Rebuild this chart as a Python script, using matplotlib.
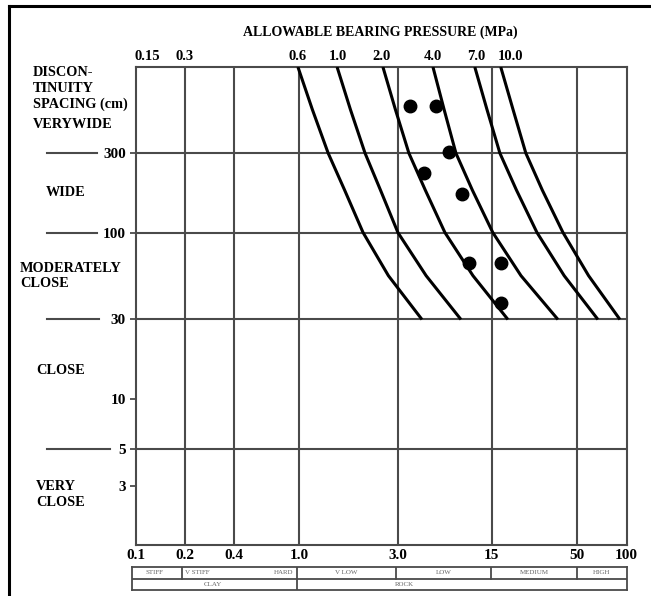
import numpy as np
import matplotlib
matplotlib.use('Agg')
import matplotlib.pyplot as plt
from matplotlib import transforms
from matplotlib.lines import Line2D

plt.rcParams['font.family'] = ['Liberation Serif', 'DejaVu Serif']
plt.rcParams['font.weight'] = 'bold'

# spacing (cm) at which the curves were read
curve_spacing = [990, 550, 300, 180, 100, 55, 30]
# allowable bearing pressure curves (x value at each spacing above)
curve_06 = [0.98, 1.20, 1.50, 1.89, 2.45, 3.50, 5.61]
curve_10 = [1.70, 2.05, 2.52, 3.13, 4.00, 5.95, 9.71]
curve_20 = [3.24, 3.86, 4.67, 5.88, 7.75, 11.5, 18.8]
curve_40 = [6.55, 7.66, 9.05, 11.4, 15.2, 22.6, 38.0]
curve_70 = [11.8, 14.0, 16.8, 21.2, 28.3, 41.5, 66.7]
curve_100 = [17.0, 20.2, 24.2, 30.5, 40.8, 58.5, 90.9]

# measured points
pt_pressure = [4.74, 6.83, 8.20, 5.77, 9.85, 10.86, 17.0, 17.0]
pt_spacing = [573, 573, 307, 229, 171, 65.3, 65.3, 37.9]

# top labels (MPa) and where they sit
top_labels = ['0.15', '0.3', '0.6', '1.0', '2.0', '4.0', '7.0', '10.0']
top_pos = [0.118, 0.2, 0.98, 1.72, 3.19, 6.55, 12.1, 19.6]

# bottom axis
x_ticks = [0.1, 0.2, 0.4, 1.0, 4.0, 15, 50, 100]
x_labels = ['0.1', '0.2', '0.4', '1.0', '3.0', '15', '50', '100']
x_grid = [0.2, 0.4, 1.0, 4.0, 15, 50]

# left axis
y_ticks = [300, 100, 30, 10, 5, 3]
y_grid = [300, 100, 30, 5]
spacing_classes = ['DISCON-\nTINUITY\nSPACING (cm)', 'VERYWIDE', 'WIDE',
                   'MODERATELY\nCLOSE', 'CLOSE', 'VERY\nCLOSE']

# strength table
row1_labels = ['STIFF', 'V STIFF', 'HARD', 'V LOW', 'LOW', 'MEDIUM', 'HIGH']
row1_pos = [0.137, 0.21, 0.95, 1.98, 7.75, 27.5, 70.5]
row1_ha = ['center', 'left', 'right', 'center', 'center', 'center', 'center']
row1_div = [0.2, 1.0, 4.0, 15, 50]
row2_labels = ['CLAY', 'ROCK']
row2_pos = [0.31, 4.5]
row2_div = [1.0]

W, H = 651, 596
fig = plt.figure(figsize=(W / 100, H / 100), dpi=100)
ax = fig.add_axes([135.7 / W, 1 - 545 / H, 491 / W, 478 / H])
ax.set_xscale('log')
ax.set_yscale('log')
ax.set_xlim(0.1, 100)
ax.set_ylim(1.32, 990)
ax.minorticks_off()

gc = '#4a4a4a'
for s in ax.spines.values():
    s.set_color(gc)
    s.set_linewidth(1.5)
for v in x_grid:
    ax.axvline(v, color=gc, lw=1.5, zorder=1)
for v in y_grid:
    ax.axhline(v, color=gc, lw=1.5, zorder=1)

for c in [curve_06, curve_10, curve_20, curve_40, curve_70, curve_100]:
    ax.plot(c, curve_spacing, color='black', lw=2.2, zorder=3,
            solid_capstyle='butt', solid_joinstyle='round')

ax.plot(pt_pressure, pt_spacing, 'o', color='black', ms=9, zorder=4)

ax.set_xticks(x_ticks)
ax.set_xticklabels(x_labels)
ax.tick_params(axis='x', length=0, pad=3, labelsize=11)
ax.set_yticks(y_ticks)
ax.set_yticklabels([str(v) for v in y_ticks])
ax.tick_params(axis='y', direction='out', length=4, width=1.3, color=gc,
               pad=3, labelsize=11)

# long dashes left of the grid-line labels
bt = transforms.blended_transform_factory(fig.transFigure, ax.transData)
dash_end = [97, 97, 99, 110]
for v, e in zip(y_grid, dash_end):
    ax.add_line(Line2D([47 / W, e / W], [v, v], transform=bt, color=gc,
                       lw=1.5, clip_on=False))

# top labels
tt = transforms.blended_transform_factory(ax.transData, ax.transAxes)
for lab, p in zip(top_labels, top_pos):
    ax.text(p, 1.008, lab, transform=tt, ha='center', va='bottom',
            fontsize=10.5, fontweight='bold')

fig.text(380 / W, 1 - 32 / H, 'ALLOWABLE BEARING PRESSURE (MPa)',
         ha='center', va='center', fontsize=10, fontweight='bold')

# spacing class labels
cls_xy = [(33, 73), (33, 124), (46, 193), (20, 268), (36, 371), (36, 487)]
for lab, (px, py) in zip(spacing_classes, cls_xy):
    fig.text(px / W, 1 - (py - 6.5) / H, lab, ha='left', va='top',
             fontsize=10.3, fontweight='bold', linespacing=1.25)

# strength table
tb = fig.add_axes([132 / W, 1 - 590 / H, 495 / W, 23 / H])
tb.set_xscale('log')
tb.set_xlim(0.1, 100)
tb.set_ylim(0, 2)
tb.set_xticks([])
tb.set_yticks([])
tb.minorticks_off()
for s in tb.spines.values():
    s.set_color(gc)
    s.set_linewidth(1.3)
tb.axhline(1, color=gc, lw=1.3)
for v in row1_div:
    tb.plot([v, v], [1, 2], color=gc, lw=1.3)
for v in row2_div:
    tb.plot([v, v], [0, 1], color=gc, lw=1.3)
for lab, p, ha in zip(row1_labels, row1_pos, row1_ha):
    tb.text(p, 1.5, lab, ha=ha, va='center', fontsize=5,
            fontweight='normal', color='#666666')
for lab, p in zip(row2_labels, row2_pos):
    tb.text(p, 0.5, lab, ha='center', va='center', fontsize=5,
            fontweight='normal', color='#666666')

# outer frame
fig.add_artist(Line2D([9 / W, 1], [1 - 6 / H, 1 - 6 / H], color='black', lw=2.2))
fig.add_artist(Line2D([9 / W, 9 / W], [0, 1 - 6 / H], color='black', lw=2.2))

fig.savefig('out.png', dpi=100)
